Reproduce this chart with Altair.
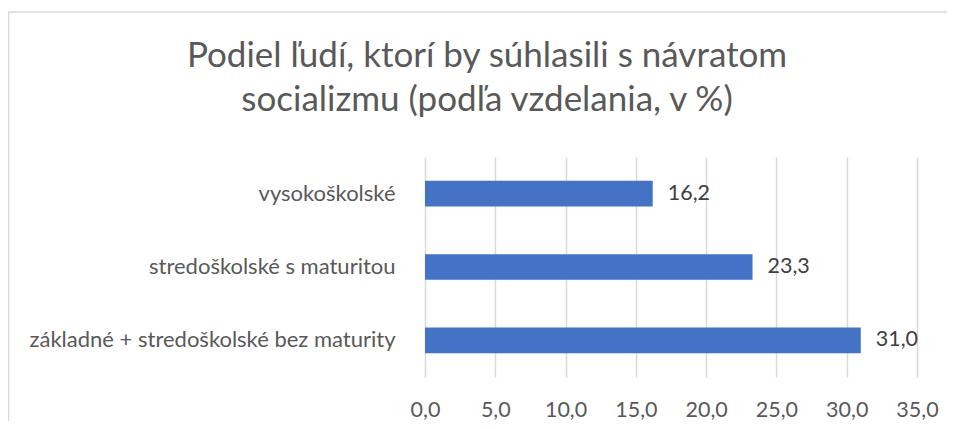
import altair as alt
import pandas as pd

categories = ["vysokoškolské", "stredoškolské s maturitou", "základné + stredoškolské bez maturity"]
values = [16.2, 23.3, 31.0]
title_lines = ["Podiel ľudí, ktorí by súhlasili s návratom", "socializmu (podľa vzdelania, v %)"]

df = pd.DataFrame({"kategoria": categories, "hodnota": values})
FONT = "Lato"
W, H = 492, 220

base = alt.Chart(df).transform_calculate(
    lbl="replace(format(datum.hodnota, '.1f'), '.', ',')"
)

bars = base.mark_bar(color="#4472C4").encode(
    x=alt.X("hodnota:Q", scale=alt.Scale(domain=[0, 35], nice=False),
            axis=alt.Axis(values=[0, 5, 10, 15, 20, 25, 30, 35], title=None,
                          labelExpr="replace(format(datum.value, '.1f'), '.', ',')",
                          labelFontSize=21.5, labelColor="#595959", labelFont=FONT,
                          labelPadding=22, ticks=False, domain=False,
                          labelFlush=False, labelOverlap=False,
                          grid=True, gridColor="#d9d9d9", gridWidth=1.5)),
    y=alt.Y("kategoria:N", sort=categories,
            scale=alt.Scale(paddingInner=0.65, paddingOuter=0.325),
            axis=alt.Axis(title=None, labelFontSize=22, labelColor="#595959",
                          labelFont=FONT, labelPadding=30, ticks=False,
                          domain=False, labelLimit=500)),
)

labels = base.mark_text(align="left", baseline="middle", dx=15, fontSize=21.5,
                        font=FONT, color="#404040").encode(
    x="hodnota:Q",
    y=alt.Y("kategoria:N", sort=categories),
    text="lbl:N",
)

frame_df = pd.DataFrame({"a": [0]})
top_rule = alt.Chart(frame_df).mark_rule(color="#d9d9d9", strokeWidth=1.5).encode(
    x=alt.value(-417), x2=alt.value(530), y=alt.value(-145))
left_rule = alt.Chart(frame_df).mark_rule(color="#d9d9d9", strokeWidth=1.5).encode(
    x=alt.value(-416.5), y=alt.value(-145), y2=alt.value(H + 50))

chart = alt.layer(top_rule, left_rule, bars, labels).properties(
    width=W, height=H,
    padding={"left": 417, "top": 149, "right": 30, "bottom": 44},
    autosize=alt.AutoSizeParams(type="none"),
    title=alt.TitleParams(title_lines, anchor="middle", frame="group",
                          fontSize=35, font=FONT, fontWeight="normal",
                          baseline="alphabetic",
                          color="#595959", lineHeight=44, dx=-184, offset=-135),
).configure_view(stroke=None)

chart.save("out.html", embed_options={"renderer": "svg", "actions": False})
